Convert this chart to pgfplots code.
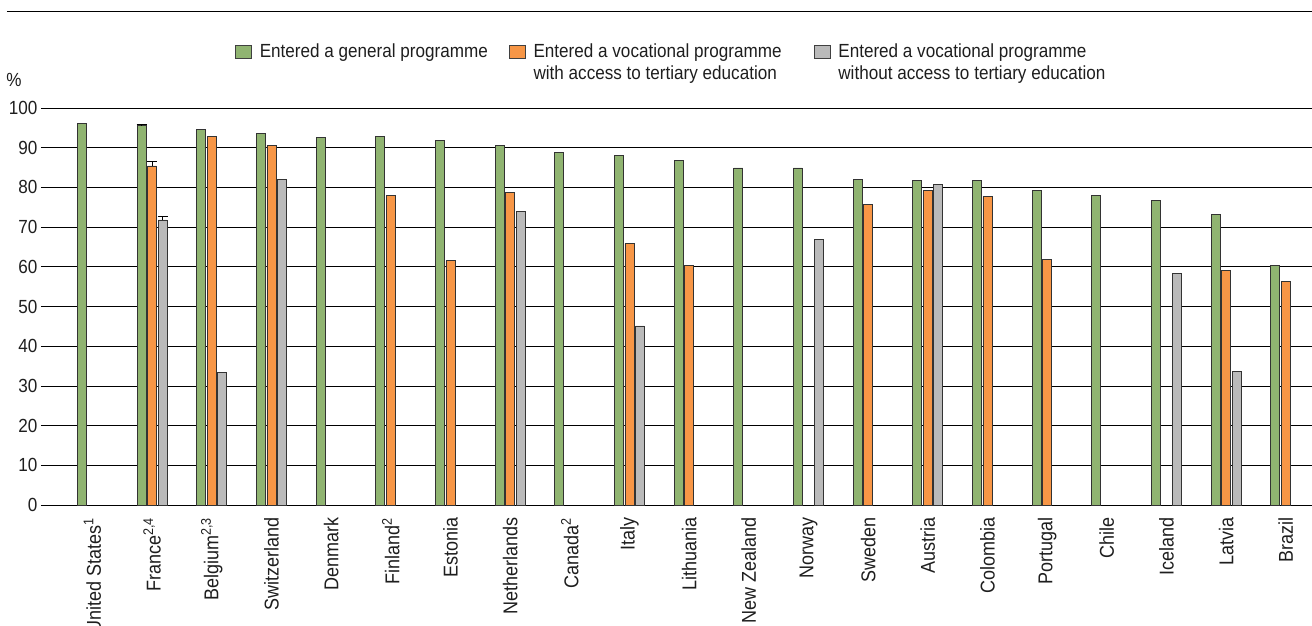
\documentclass[border=0pt]{standalone}
\usepackage{pgfplots}
\pgfplotsset{compat=1.18}
\usepackage{pgfplotstable}
\usepackage{fontspec}
\setmainfont{Liberation Sans}[FakeStretch=0.9]
\definecolor{cgreen}{RGB}{144,180,113}
\definecolor{corange}{RGB}{247,150,70}
\definecolor{cgrey}{RGB}{186,186,186}
\definecolor{ctext}{RGB}{30,30,30}

\pgfplotstableread{
x y
0 96.1
1 95.5
2 94.6
3 93.5
4 92.6
5 92.9
6 91.8
7 90.6
8 88.9
9 88.1
10 86.9
11 84.9
12 84.9
13 82.0
14 81.8
15 81.8
16 79.3
17 78.0
18 76.8
19 73.3
20 60.4
}\general

\pgfplotstableread{
x y
1 85.4
2 92.9
3 90.6
5 78.0
6 61.5
7 78.8
9 65.8
10 60.4
13 75.6
14 79.3
15 77.7
16 61.9
19 59.1
20 56.3
}\vocacc

\pgfplotstableread{
x y
1 71.8
2 33.3
3 82.0
7 73.9
9 45.1
12 66.8
14 80.8
18 58.4
19 33.7
}\vocnoacc

\begin{document}
\begin{tikzpicture}
\begin{axis}[
  at={(0pt,0pt)}, anchor=south west,
  scale only axis, width=1271pt, height=397pt,
  ymin=0, ymax=100, ytick={0,10,...,100},
  xmin=-0.863, xmax=20.44,
  xtick={0,...,20},
  xticklabels={United States\textsuperscript{1},France\textsuperscript{2,4},Belgium\textsuperscript{2,3},Switzerland,Denmark,Finland\textsuperscript{2},Estonia,Netherlands,Canada\textsuperscript{2},Italy,Lithuania,New Zealand,Norway,Sweden,Austria,Colombia,Portugal,Chile,Iceland,Latvia,Brazil},
  axis line style={draw=none},
  tick style={draw=none},
  major tick length=0pt,
  ymajorgrids,
  major grid style={black, line width=0.8pt},
  font=\fontsize{19}{22}\selectfont,
  yticklabel style={font=\fontsize{19}{22}\selectfont, text=ctext, anchor=east},
  xticklabel style={font=\fontsize{20}{22}\selectfont, text=ctext, yshift=-9pt, rotate=90, anchor=east},
  /pgf/number format/assume math mode=true,
  ylabel={\%},
  ylabel style={rotate=-90, at={(axis description cs:-0.0212,1.0705)}, anchor=center, text=ctext},
  ybar, bar width=9pt,
  legend columns=3,
  legend style={draw=none, fill=none, at={(axis description cs:0.1526,1.1698)}, anchor=north west,
    inner sep=0pt, outer sep=0pt, row sep=0pt,
    /tikz/every odd column/.style={column sep=6pt},
    cells={anchor=base west}, text=ctext,
    font=\fontsize{19}{22}\selectfont},
]
\addplot[fill=cgreen, draw=black!80, line width=0.8pt, bar shift=-10.5pt,
  legend image code/.code={\draw[fill=cgreen, draw=black!75, line width=0.8pt] (0pt,0pt) rectangle (16pt,13pt);}]
  table[x=x,y=y]{\general};
\addlegendentry{\makebox[247pt][l]{Entered a general programme}}
\addplot[fill=corange, draw=black!80, line width=0.8pt, bar shift=0pt,
  legend image code/.code={\draw[fill=corange, draw=black!75, line width=0.8pt] (0pt,0pt) rectangle (16pt,13pt);}]
  table[x=x,y=y]{\vocacc};
\addlegendentry{\makebox[278pt][l]{\begin{tabular}[t]{@{}l@{}}Entered a vocational programme\\with access to tertiary education\end{tabular}}}
\addplot[fill=cgrey, draw=black!80, line width=0.8pt, bar shift=10.5pt,
  legend image code/.code={\draw[fill=cgrey, draw=black!75, line width=0.8pt] (0pt,0pt) rectangle (16pt,13pt);}]
  table[x=x,y=y]{\vocnoacc};
\addlegendentry{\begin{tabular}[t]{@{}l@{}}Entered a vocational programme\\without access to tertiary education\end{tabular}}
% error bars for France (bars redrawn in outline only)
\addplot[draw=black!80, fill=none, line width=0.8pt, bar shift=-10.5pt, forget plot,
  error bars/.cd, y dir=plus, y explicit, error mark=|,
  error bar style={draw=black, line width=1pt},
  error mark options={draw=black, line width=1.6pt, mark size=5pt}]
  coordinates {(1,95.5) +- (0,0.35)};
\addplot[draw=black!80, fill=none, line width=0.8pt, bar shift=0pt, forget plot,
  error bars/.cd, y dir=plus, y explicit, error mark=|,
  error bar style={draw=black, line width=1pt},
  error mark options={draw=black, line width=1pt, mark size=5pt}]
  coordinates {(1,85.4) +- (0,1.1)};
\addplot[draw=black!80, fill=none, line width=0.8pt, bar shift=10.5pt, forget plot,
  error bars/.cd, y dir=plus, y explicit, error mark=|,
  error bar style={draw=black, line width=1pt},
  error mark options={draw=black, line width=1pt, mark size=5pt}]
  coordinates {(1,71.8) +- (0,0.9)};
\end{axis}
\draw[black, line width=1pt] (-34pt,493pt) -- (1271pt,493pt);
\pgfresetboundingbox
\useasboundingbox (-41pt,-120pt) rectangle (1271pt,505pt);
\end{tikzpicture}
\end{document}
